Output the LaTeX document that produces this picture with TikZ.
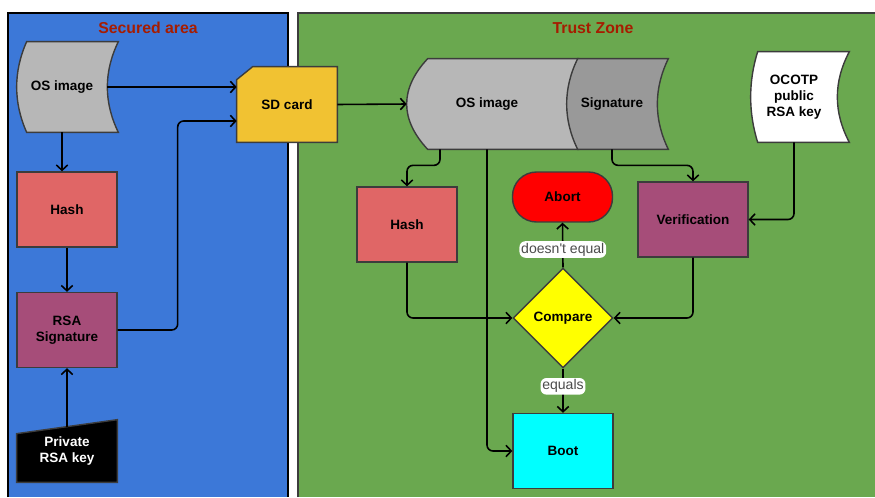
\documentclass[tikz,border=0pt]{standalone}
\usepackage{fontspec}
\setmainfont{Liberation Sans}
\usetikzlibrary{arrows.meta,shapes.geometric}

\definecolor{securedblue}{RGB}{60,120,216}
\definecolor{trustgreen}{RGB}{106,168,79}
\definecolor{titlered}{RGB}{166,28,0}
\definecolor{imagegray}{RGB}{183,183,183}
\definecolor{siggray}{RGB}{153,153,153}
\definecolor{hashred}{RGB}{224,102,102}
\definecolor{rsapurple}{RGB}{166,77,121}
\definecolor{sdyellow}{RGB}{241,194,50}
\definecolor{abortred}{RGB}{255,0,0}
\definecolor{compareyellow}{RGB}{255,255,0}
\definecolor{bootcyan}{RGB}{0,255,255}
\definecolor{edgegray}{RGB}{60,60,60}

\pgfdeclarelayer{panels}
\pgfdeclarelayer{shapes}
\pgfsetlayers{panels,shapes,main}

\tikzset{
  box/.style={draw=edgegray, line width=0.8pt, minimum width=2cm, minimum height=1.5cm,
    inner sep=1pt, align=center, font=\fontsize{7.7}{9}\selectfont\bfseries},
  plain/.style={minimum height=1.8cm, inner sep=1pt, align=center,
    font=\fontsize{7.7}{9}\selectfont\bfseries},
  shapeline/.style={draw=edgegray, line width=0.8pt},
  conn/.style={line width=0.9pt, rounded corners=0.12cm,
    -{Straight Barb[length=3pt,width=6.5pt]}},
  lbl/.style={fill=white, text=black!70, inner sep=1pt, font=\fontsize{8}{9}\selectfont},
  title/.style={text=titlered, font=\fontsize{9}{10}\selectfont\bfseries}
}

% stored data outline round a text node; #3 and #4 = bulge of the sides in px
\newcommand\storedshape[4]{%
  \begin{pgfonlayer}{shapes}
    \draw[shapeline, fill=#2] ([xshift=#3*0.02cm]#1.north west) -- ([xshift=#4*0.02cm]#1.north east)
      .. controls +({-4/3*#4},30) and +({-4/3*#4},-30) .. ([xshift=#4*0.02cm]#1.south east)
      -- ([xshift=#3*0.02cm]#1.south west)
      .. controls +({-4/3*#3},-30) and +({-4/3*#3},30) .. ([xshift=#3*0.02cm]#1.north west) -- cycle;
  \end{pgfonlayer}}

\begin{document}
\begin{tikzpicture}[x=0.02cm, y=-0.02cm]
  \useasboundingbox (0,0) rectangle (875,497);
  % The two areas.
  \begin{pgfonlayer}{panels}
    \fill[white] (0,0) rectangle (875,497);
    \fill[securedblue] (8,13) rectangle (288,497);
    \draw[line width=0.6pt] (8,497) -- (8,13) -- (288,13) -- (288,497);
    \fill[trustgreen] (298,13) rectangle (875,497);
    \draw[edgegray, line width=0.8pt] (298,497) -- (298,13) -- (875,13);
  \end{pgfonlayer}
  \node[title] (securedTitle) at (148,28) {Secured area};
  \node[title] (trustTitle) at (593,28) {Trust Zone};

  % Secured area.
  \node[plain, minimum width=1.8cm] (imageSrc) at (62,87) {OS image};
  \node[box, fill=hashred] (hashSrc) at (67,209.5) {Hash};
  \node[box, fill=rsapurple] (rsaSig) at (67,330) {RSA\\Signature};
  \node[plain, minimum width=2cm, minimum height=1.24cm, text=white] (privKey) at (67,451) {Private\\RSA key};
  \node[plain, minimum width=2cm, minimum height=1.5cm] (sdCard) at (287,104.5) {SD card};

  % Trust Zone.
  \node[plain, minimum width=3.2cm] (imageDst) at (487,104) {OS image};
  \node[plain, minimum width=1.8cm] (sigDst) at (612,104) {Signature};
  \node[plain, minimum width=1.72cm] (ocotpKey) at (794,97) {OCOTP\\public\\RSA key};
  \node[box, fill=hashred] (hashDst) at (407,224.5) {Hash};
  \node[box, fill=abortred, minimum height=1cm, rounded corners=0.48cm] (abort) at (562.5,197) {Abort};
  \node[box, fill=rsapurple, minimum width=2.2cm] (verify) at (693,219.5) {Verification};
  \node[box, diamond, fill=compareyellow, minimum width=2cm, minimum height=2cm, aspect=1] (compare) at (563,318) {Compare};
  \node[box, fill=bootcyan] (boot) at (563,451) {Boot};

  % Outlines of the odd shapes.
  \storedshape{imageSrc}{imagegray}{10}{11}
  \storedshape{imageDst}{imagegray}{21}{11}
  \storedshape{sigDst}{siggray}{11}{11}
  \storedshape{ocotpKey}{white}{7}{12}
  \begin{pgfonlayer}{shapes}
    \draw[shapeline, fill=sdyellow] (sdCard.south west) -- ([yshift=-0.26cm]sdCard.north west)
      -- ([xshift=0.32cm]sdCard.north west) -- (sdCard.north east) -- (sdCard.south east) -- cycle;
    \draw[shapeline, fill=black] (privKey.south west) -- ([yshift=-0.28cm]privKey.north west)
      -- (privKey.north east) -- (privKey.south east) -- cycle;
  \end{pgfonlayer}

  % Signing.
  \draw[conn] (imageSrc.east) -- (imageSrc.east -| sdCard.west);
  \draw[conn] (rsaSig.east) -- ++(60,0) |- ([yshift=-0.33cm]sdCard.west);
  \draw[conn] (imageSrc.south) -- (imageSrc.south |- hashSrc.north);
  \draw[conn] (hashSrc) -- (rsaSig);
  \draw[conn] ([yshift=-0.14cm]privKey.north) -- (rsaSig);
  \draw[conn] (sdCard.east) -- (imageDst.west);

  % Checking.
  \draw[conn] ([xshift=-0.94cm]imageDst.south) -- ++(0,16) -| (hashDst.north);
  \draw[conn] (imageDst.south) |- (boot.west);
  \draw[conn] (sigDst.south) -- ++(0,16) -| (verify.north);
  \draw[conn] (ocotpKey.south) |- (verify.east);
  \draw[conn] (hashDst.south) |- (compare.west);
  \draw[conn] (verify.south) |- (compare.east);
  \draw[conn] (compare.north) -- node[lbl, pos=0.4] (neqLabel) {doesn\textquotesingle t equal} (abort.south);
  \draw[conn] (compare.south) -- node[lbl, pos=0.4] (eqLabel) {equals} (boot.north);
\end{tikzpicture}
\end{document}
